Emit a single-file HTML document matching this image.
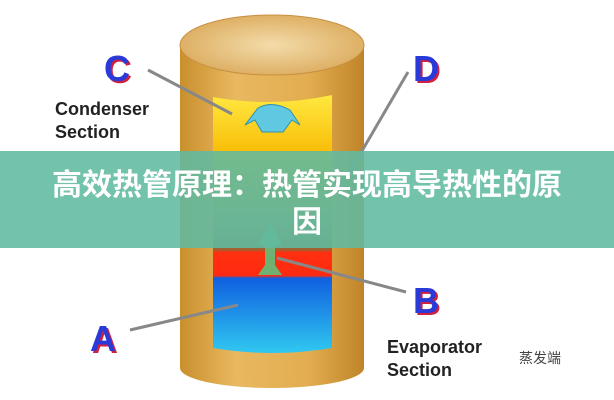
<!DOCTYPE html>
<html><head><meta charset="utf-8"><style>
body{margin:0;width:614px;height:400px;overflow:hidden;background:#fff;position:relative;font-family:"Liberation Sans","Noto Sans CJK SC",sans-serif}
svg{position:absolute;left:0;top:0}
.banner{position:absolute;left:0;top:151px;width:614px;height:97px;background:rgba(96,185,160,0.88);color:#fff;font-family:"Liberation Sans","Noto Sans CJK SC",sans-serif;font-weight:bold;font-size:30px;line-height:37px;text-align:center;padding-top:16px;box-sizing:border-box}
.lbl{position:absolute;font-weight:bold;color:#222;font-size:18px;line-height:23px}
.let{position:absolute;font-weight:900;font-size:36px;color:#2a3ad8;text-shadow:2px 2px 0 #d02040}
</style></head><body>
<svg width="614" height="400">
<defs>
<linearGradient id="cyl" x1="0" x2="1">
<stop offset="0" stop-color="#c98f2c"/><stop offset="0.3" stop-color="#e8b860"/><stop offset="0.7" stop-color="#e2ad50"/><stop offset="1" stop-color="#c08428"/></linearGradient>
<radialGradient id="top" cx="0.5" cy="0.5" r="0.6"><stop offset="0" stop-color="#f4dcaa"/><stop offset="1" stop-color="#d9a757"/></radialGradient>
<linearGradient id="win" x1="0" y1="0" x2="0" y2="1">
<stop offset="0" stop-color="#ffe840"/><stop offset="0.25" stop-color="#f8b800"/><stop offset="0.5" stop-color="#b09040"/><stop offset="0.6" stop-color="#a06030"/><stop offset="0.61" stop-color="#ff3010"/><stop offset="0.7" stop-color="#ff2a10"/><stop offset="0.71" stop-color="#1060e0"/><stop offset="1" stop-color="#30c8f0"/></linearGradient>
</defs>
<path d="M180 45 L180 368 A92 20 0 0 0 364 368 L364 45 Z" fill="url(#cyl)"/>
<ellipse cx="272" cy="45" rx="92" ry="30" fill="url(#top)" stroke="#c89040"/>
<path d="M213 97 Q272 108 332 95 L332 348 Q272 358 213 348 Z" fill="url(#win)"/>
<path d="M258 108 Q272 100 290 110 L300 125 L292 120 L283 132 L262 132 L255 120 L245 125 Z" fill="#60c8e0" stroke="#3090b0"/>
<polygon points="272,275 258,275 265,265 265,245 258,245 270,222 282,245 275,245 275,265 282,275" fill="#70b070"/>
<line x1="148" y1="70" x2="232" y2="114" stroke="#888" stroke-width="3"/>
<line x1="408" y1="72" x2="345" y2="180" stroke="#888" stroke-width="3"/>
<line x1="277" y1="258" x2="406" y2="292" stroke="#888" stroke-width="3"/>
<line x1="130" y1="330" x2="238" y2="305" stroke="#888" stroke-width="3"/>
</svg>
<div class="let" style="left:104px;top:48px">C</div>
<div class="let" style="left:413px;top:48px">D</div>
<div class="let" style="left:413px;top:280px">B</div>
<div class="let" style="left:90px;top:318px">A</div>
<div class="lbl" style="left:55px;top:98px">Condenser<br>Section</div>
<div class="lbl" style="left:387px;top:336px">Evaporator<br>Section</div>
<div style="position:absolute;left:519px;top:348px;font-size:14px;color:#444">蒸发端</div>
<div class="banner">高效热管原理：热管实现高导热性的原<br>因</div>
</body></html>
